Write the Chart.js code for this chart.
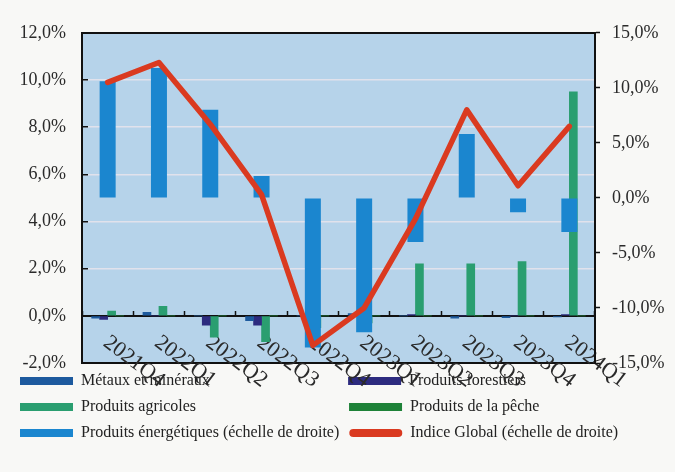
<!DOCTYPE html>
<html>
<head>
<meta charset="utf-8">
<script src="https://cdn.jsdelivr.net/npm/chart.js@4/dist/chart.umd.min.js"></script>
<style>
  html, body { margin: 0; padding: 0; background: #f8f8f6; }
  #wrap { width: 675px; height: 472px; }
</style>
</head>
<body>
<div id="wrap"><canvas id="c" width="675" height="472"></canvas></div>
<script>
// ---- data ----
const categories = ['2021Q4','2022Q1','2022Q2','2022Q3','2022Q4','2023Q1','2023Q2','2023Q3','2023Q4','2024Q1'];
const metaux     = [-0.10, 0.15, 0.00, -0.20, 0.00, 0.10, 0.00, -0.10, -0.08, -0.05];
const forestiers = [-0.15, 0.00, -0.40, -0.40, 0.00, 0.00, 0.05, 0.00, 0.00, 0.05];
const agricoles  = [0.20, 0.40, -0.90, -1.10, -0.50, -0.30, 2.20, 2.20, 2.30, 9.50];
const peche      = [0.00, 0.00, 0.00, 0.00, 0.00, 0.00, 0.00, 0.00, 0.00, 0.00];
const energie    = [10.6, 11.8, 8.0, 2.0, -13.6, -12.2, -4.0, 5.8, -1.3, -3.1];
const indice     = [10.5, 12.3, 6.7, 0.3, -13.4, -10.0, -1.9, 8.0, 1.1, 6.5];
const leftTicks  = { min: -2, max: 12, step: 2 };
const rightTicks = { min: -15, max: 15, step: 5 };

const names = [
  'Métaux et minéraux',
  'Produits forestiers',
  'Produits agricoles',
  'Produits de la pêche',
  'Produits énergétiques (échelle de droite)',
  'Indice Global (échelle de droite)'
];
const colors = {
  metaux: '#1d5a9e', forestiers: '#2d2b7f', agricoles: '#2a9e70',
  peche: '#1e8238', energie: '#1b86cf', indice: '#da3a20'
};

const FONT = '"Liberation Serif", "Times New Roman", serif';
Chart.defaults.font.family = FONT;
Chart.defaults.color = '#2a2a2a';

const pct = v => v.toFixed(1).replace('.', ',') + '%';

const plotBg = {
  id: 'plotBg',
  beforeDraw(chart) {
    const { ctx, chartArea: a } = chart;
    ctx.save();
    ctx.fillStyle = '#b6d3ea';
    ctx.fillRect(a.left, a.top, a.right - a.left, a.bottom - a.top);
    ctx.restore();
  }
};

// legend text padding so that the second column lines up
const LEG_FONT = 16;
const measureCtx = document.createElement('canvas').getContext('2d');
measureCtx.font = LEG_FONT + 'px ' + FONT;
function padTo(text, w) {
  let t = text;
  while (measureCtx.measureText(t).width < w) t += '\u200A';
  return t;
}

new Chart(document.getElementById('c'), {
  type: 'bar',
  data: {
    labels: categories,
    datasets: [
      { label: names[0], data: metaux, backgroundColor: colors.metaux, yAxisID: 'y', xAxisID: 'x', barThickness: 8, order: 2 },
      { label: names[1], data: forestiers, backgroundColor: colors.forestiers, yAxisID: 'y', xAxisID: 'x', barThickness: 8, order: 2 },
      { label: names[2], data: agricoles, backgroundColor: colors.agricoles, yAxisID: 'y', xAxisID: 'x', barThickness: 8, order: 2 },
      { label: names[3], data: peche, backgroundColor: colors.peche, yAxisID: 'y', xAxisID: 'x', barThickness: 8, order: 2 },
      { label: names[4], data: energie, backgroundColor: colors.energie, yAxisID: 'y2', xAxisID: 'x', grouped: false, maxBarThickness: 16, order: 1 },
      { type: 'line', label: names[5], data: indice, borderColor: colors.indice, backgroundColor: colors.indice,
        borderWidth: 5.5, pointRadius: 0, tension: 0, borderJoinStyle: 'round', borderCapStyle: 'round',
        yAxisID: 'y2', xAxisID: 'x', order: 0 }
    ]
  },
  options: {
    responsive: false,
    animation: false,
    layout: { padding: { top: 27, left: 10, right: 0, bottom: 21 } },
    plugins: {
      tooltip: { enabled: false },
      legend: {
        position: 'bottom',
        align: 'start',
        labels: {
          boxWidth: 53, boxHeight: 8, padding: 10,
          font: { size: LEG_FONT, family: FONT }, color: '#222',
          useBorderRadius: true,
          sort: (a, b) => a.datasetIndex - b.datasetIndex,
          generateLabels(chart) {
            const items = Chart.defaults.plugins.legend.labels.generateLabels(chart);
            items.sort((a, b) => a.datasetIndex - b.datasetIndex);
            const target = 348 - 20 - 53 - LEG_FONT / 2 - 10;
            items.forEach((it, i) => {
              it.lineWidth = 0;
              it.borderRadius = (it.datasetIndex === 5) ? 4 : 0;
              if (i % 2 === 0) it.text = padTo(it.text, target);
            });
            return items;
          }
        }
      }
    },
    scales: {
      x: {
        type: 'category',
        position: { y: 0 },
        offset: true,
        grid: { offset: true, drawOnChartArea: false, drawTicks: true, tickLength: -6, tickColor: '#111', tickWidth: 1.5 },
        border: { display: true, color: '#111', width: 2 },
        ticks: { display: false }
      },
      xl: {
        type: 'category',
        position: 'top',
        offset: true,
        grid: { display: false, drawTicks: false },
        border: { display: false },
        ticks: {
          autoSkip: false, minRotation: -37, maxRotation: -37,
          mirror: true, padding: 297, labelOffset: -2,
          font: { size: 22, family: FONT }, color: '#2a2a2a'
        },
        afterFit(s) { s.height = 0; s.paddingLeft = 0; s.paddingRight = 0; }
      },
      y: {
        position: 'left',
        min: leftTicks.min, max: leftTicks.max,
        ticks: { stepSize: leftTicks.step, callback: v => pct(v), font: { size: 18, family: FONT }, padding: 22, color: '#2a2a2a' },
        grid: {
          drawTicks: true, tickLength: -6, tickColor: '#111', tickWidth: 1.5,
          color: c => (c.tick.value === leftTicks.min || c.tick.value === leftTicks.max) ? '#111'
                     : (c.tick.value === 0 ? 'rgba(0,0,0,0)' : 'rgba(236,230,236,0.8)'),
          lineWidth: c => (c.tick.value === leftTicks.min || c.tick.value === leftTicks.max) ? 2 : 1.5
        },
        border: { display: true, color: '#111', width: 2 },
        afterFit(s) { s.width = 72; }
      },
      y2: {
        position: 'right',
        min: rightTicks.min, max: rightTicks.max,
        ticks: { stepSize: rightTicks.step, callback: v => pct(v), font: { size: 18, family: FONT }, padding: 12, color: '#2a2a2a' },
        grid: { drawOnChartArea: false, drawTicks: true, tickLength: 5, tickColor: '#111', tickWidth: 1.5 },
        border: { display: true, color: '#111', width: 2 },
        afterFit(s) { s.width = 80; }
      }
    }
  },
  plugins: [plotBg]
});
</script>
</body>
</html>
